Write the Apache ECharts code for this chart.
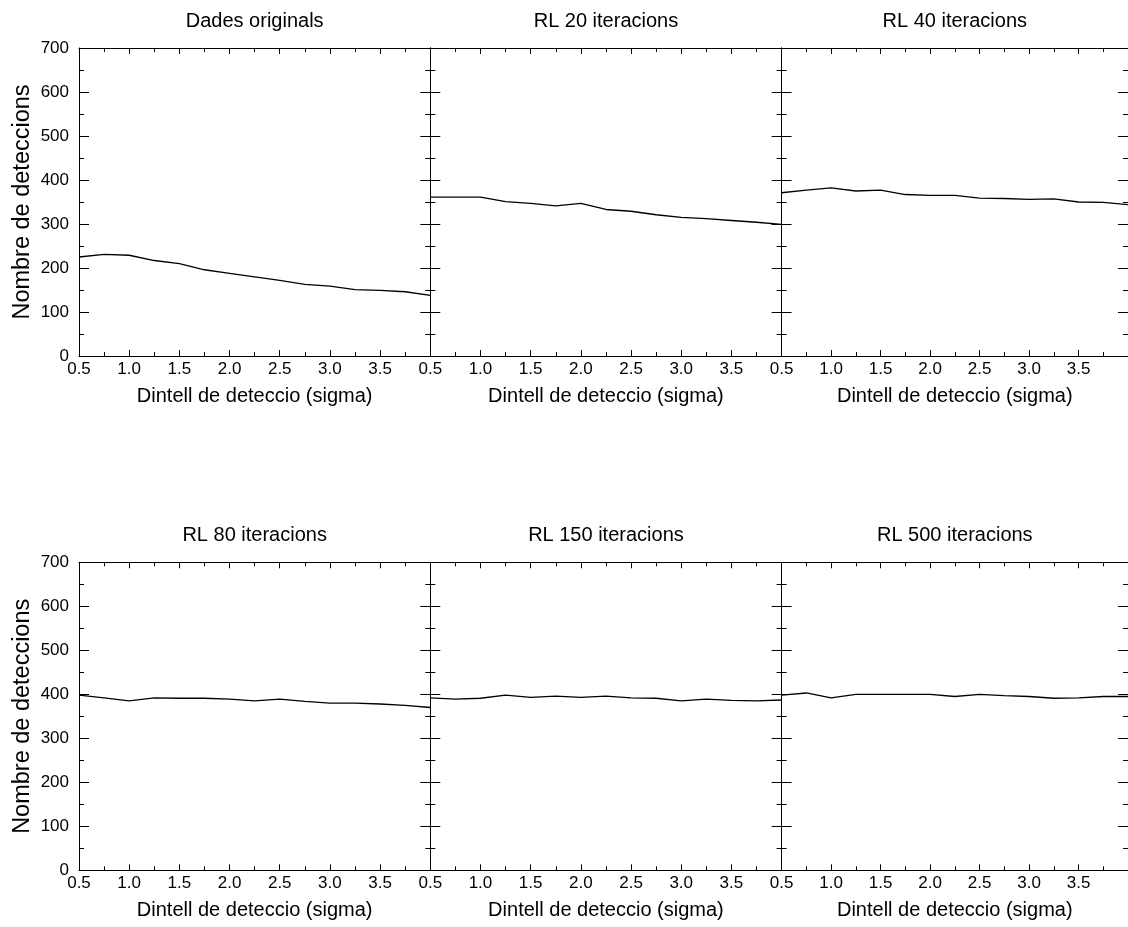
<!DOCTYPE html>
<html>
<head>
<meta charset="utf-8">
<script src="https://cdn.jsdelivr.net/npm/echarts@6/dist/echarts.min.js"></script>
<style>
  html, body { margin: 0; padding: 0; background: #fff; }
  #chart { width: 1128px; height: 927px; }
</style>
</head>
<body>
<div id="chart"></div>
<script>
// detection threshold (sigma)
const sigma = [0.5, 0.75, 1.0, 1.25, 1.5, 1.75, 2.0, 2.25, 2.5, 2.75, 3.0, 3.25, 3.5, 3.75, 4.0]

const dadesOriginals = [225, 231, 229, 217, 210, 196, 188, 180, 172, 163, 159, 151, 149, 146, 138]
const rl20 = [361, 361, 361, 351, 347, 341, 347, 333, 329, 321, 315, 312, 308, 304, 299]
const rl40 = [371, 377, 382, 375, 377, 367, 365, 365, 359, 358, 356, 357, 350, 349, 344]
const rl80 = [398, 392, 385, 392, 391, 391, 389, 385, 389, 384, 380, 380, 378, 375, 370]
const rl150 = [392, 389, 391, 398, 393, 396, 393, 396, 392, 391, 385, 389, 386, 385, 387]
const rl500 = [398, 403, 392, 400, 400, 400, 400, 395, 400, 397, 395, 391, 392, 395, 395]

const panelTitles = ['Dades originals', 'RL 20 iteracions', 'RL 40 iteracions',
  'RL 80 iteracions', 'RL 150 iteracions', 'RL 500 iteracions']
const panelData = [dadesOriginals, rl20, rl40, rl80, rl150, rl500]

const xTitle = 'Dintell de deteccio (sigma)'
const yTitle = 'Nombre de deteccions'

const font = "'Liberation Sans', Arial, Helvetica, sans-serif"
const black = '#000'

const colLeft = [79, 430.3, 781.6]
const rowTop = [48, 562.3]
const panelW = 351.3
const panelH = 308

const chart = echarts.init(document.getElementById('chart'))

const grids = []
const xAxes = []
const yAxes = []
const series = []

panelData.forEach((vals, i) => {
  const row = Math.floor(i / 3)
  const col = i % 3
  grids.push({ left: colLeft[col], top: rowTop[row], width: panelW, height: panelH, containLabel: false })

  const xBase = {
    gridIndex: i,
    type: 'value',
    min: 0.5,
    max: 4.0,
    interval: 0.5,
    axisLine: { show: true, onZero: false, lineStyle: { color: black, width: 1 } },
    axisTick: { show: true, inside: true, length: 6, lineStyle: { color: black } },
    minorTick: { show: true, splitNumber: 2, length: 4, lineStyle: { color: black } },
    splitLine: { show: false }
  }
  xAxes.push(Object.assign({}, xBase, {
    position: 'bottom',
    name: xTitle,
    nameLocation: 'middle',
    nameGap: 30,
    nameTextStyle: { color: black, fontFamily: font, fontSize: 20 },
    axisLabel: {
      show: true, color: black, fontFamily: font, fontSize: 17, margin: 5,
      showMaxLabel: false,
      formatter: v => v.toFixed(1)
    }
  }))
  xAxes.push(Object.assign({}, xBase, {
    position: 'top',
    name: panelTitles[i],
    nameLocation: 'middle',
    nameGap: 17,
    nameTextStyle: { color: black, fontFamily: font, fontSize: 20 },
    axisLabel: { show: false }
  }))

  const yBase = {
    gridIndex: i,
    type: 'value',
    min: 0,
    max: 700,
    interval: 100,
    axisLine: { show: true, onZero: false, lineStyle: { color: black, width: 1 } },
    axisTick: { show: true, inside: true, length: 10, lineStyle: { color: black } },
    minorTick: { show: true, splitNumber: 2, length: 5, lineStyle: { color: black } },
    splitLine: { show: false }
  }
  yAxes.push(Object.assign({}, yBase, {
    position: 'left',
    name: col === 0 ? yTitle : '',
    nameLocation: 'middle',
    nameGap: 44,
    nameTextStyle: { color: black, fontFamily: font, fontSize: 23.5 },
    axisLabel: { show: col === 0, color: black, fontFamily: font, fontSize: 17, margin: 10 }
  }))
  yAxes.push(Object.assign({}, yBase, {
    position: 'right',
    axisLabel: { show: false }
  }))

  series.push({
    type: 'line',
    xAxisIndex: 2 * i,
    yAxisIndex: 2 * i,
    data: sigma.map((s, j) => [s, vals[j]]),
    showSymbol: false,
    symbol: 'none',
    lineStyle: { color: black, width: 1.3 },
    animation: false
  })
})

chart.setOption({
  backgroundColor: '#fff',
  animation: false,
  grid: grids,
  xAxis: xAxes,
  yAxis: yAxes,
  series: series
})
</script>
</body>
</html>
